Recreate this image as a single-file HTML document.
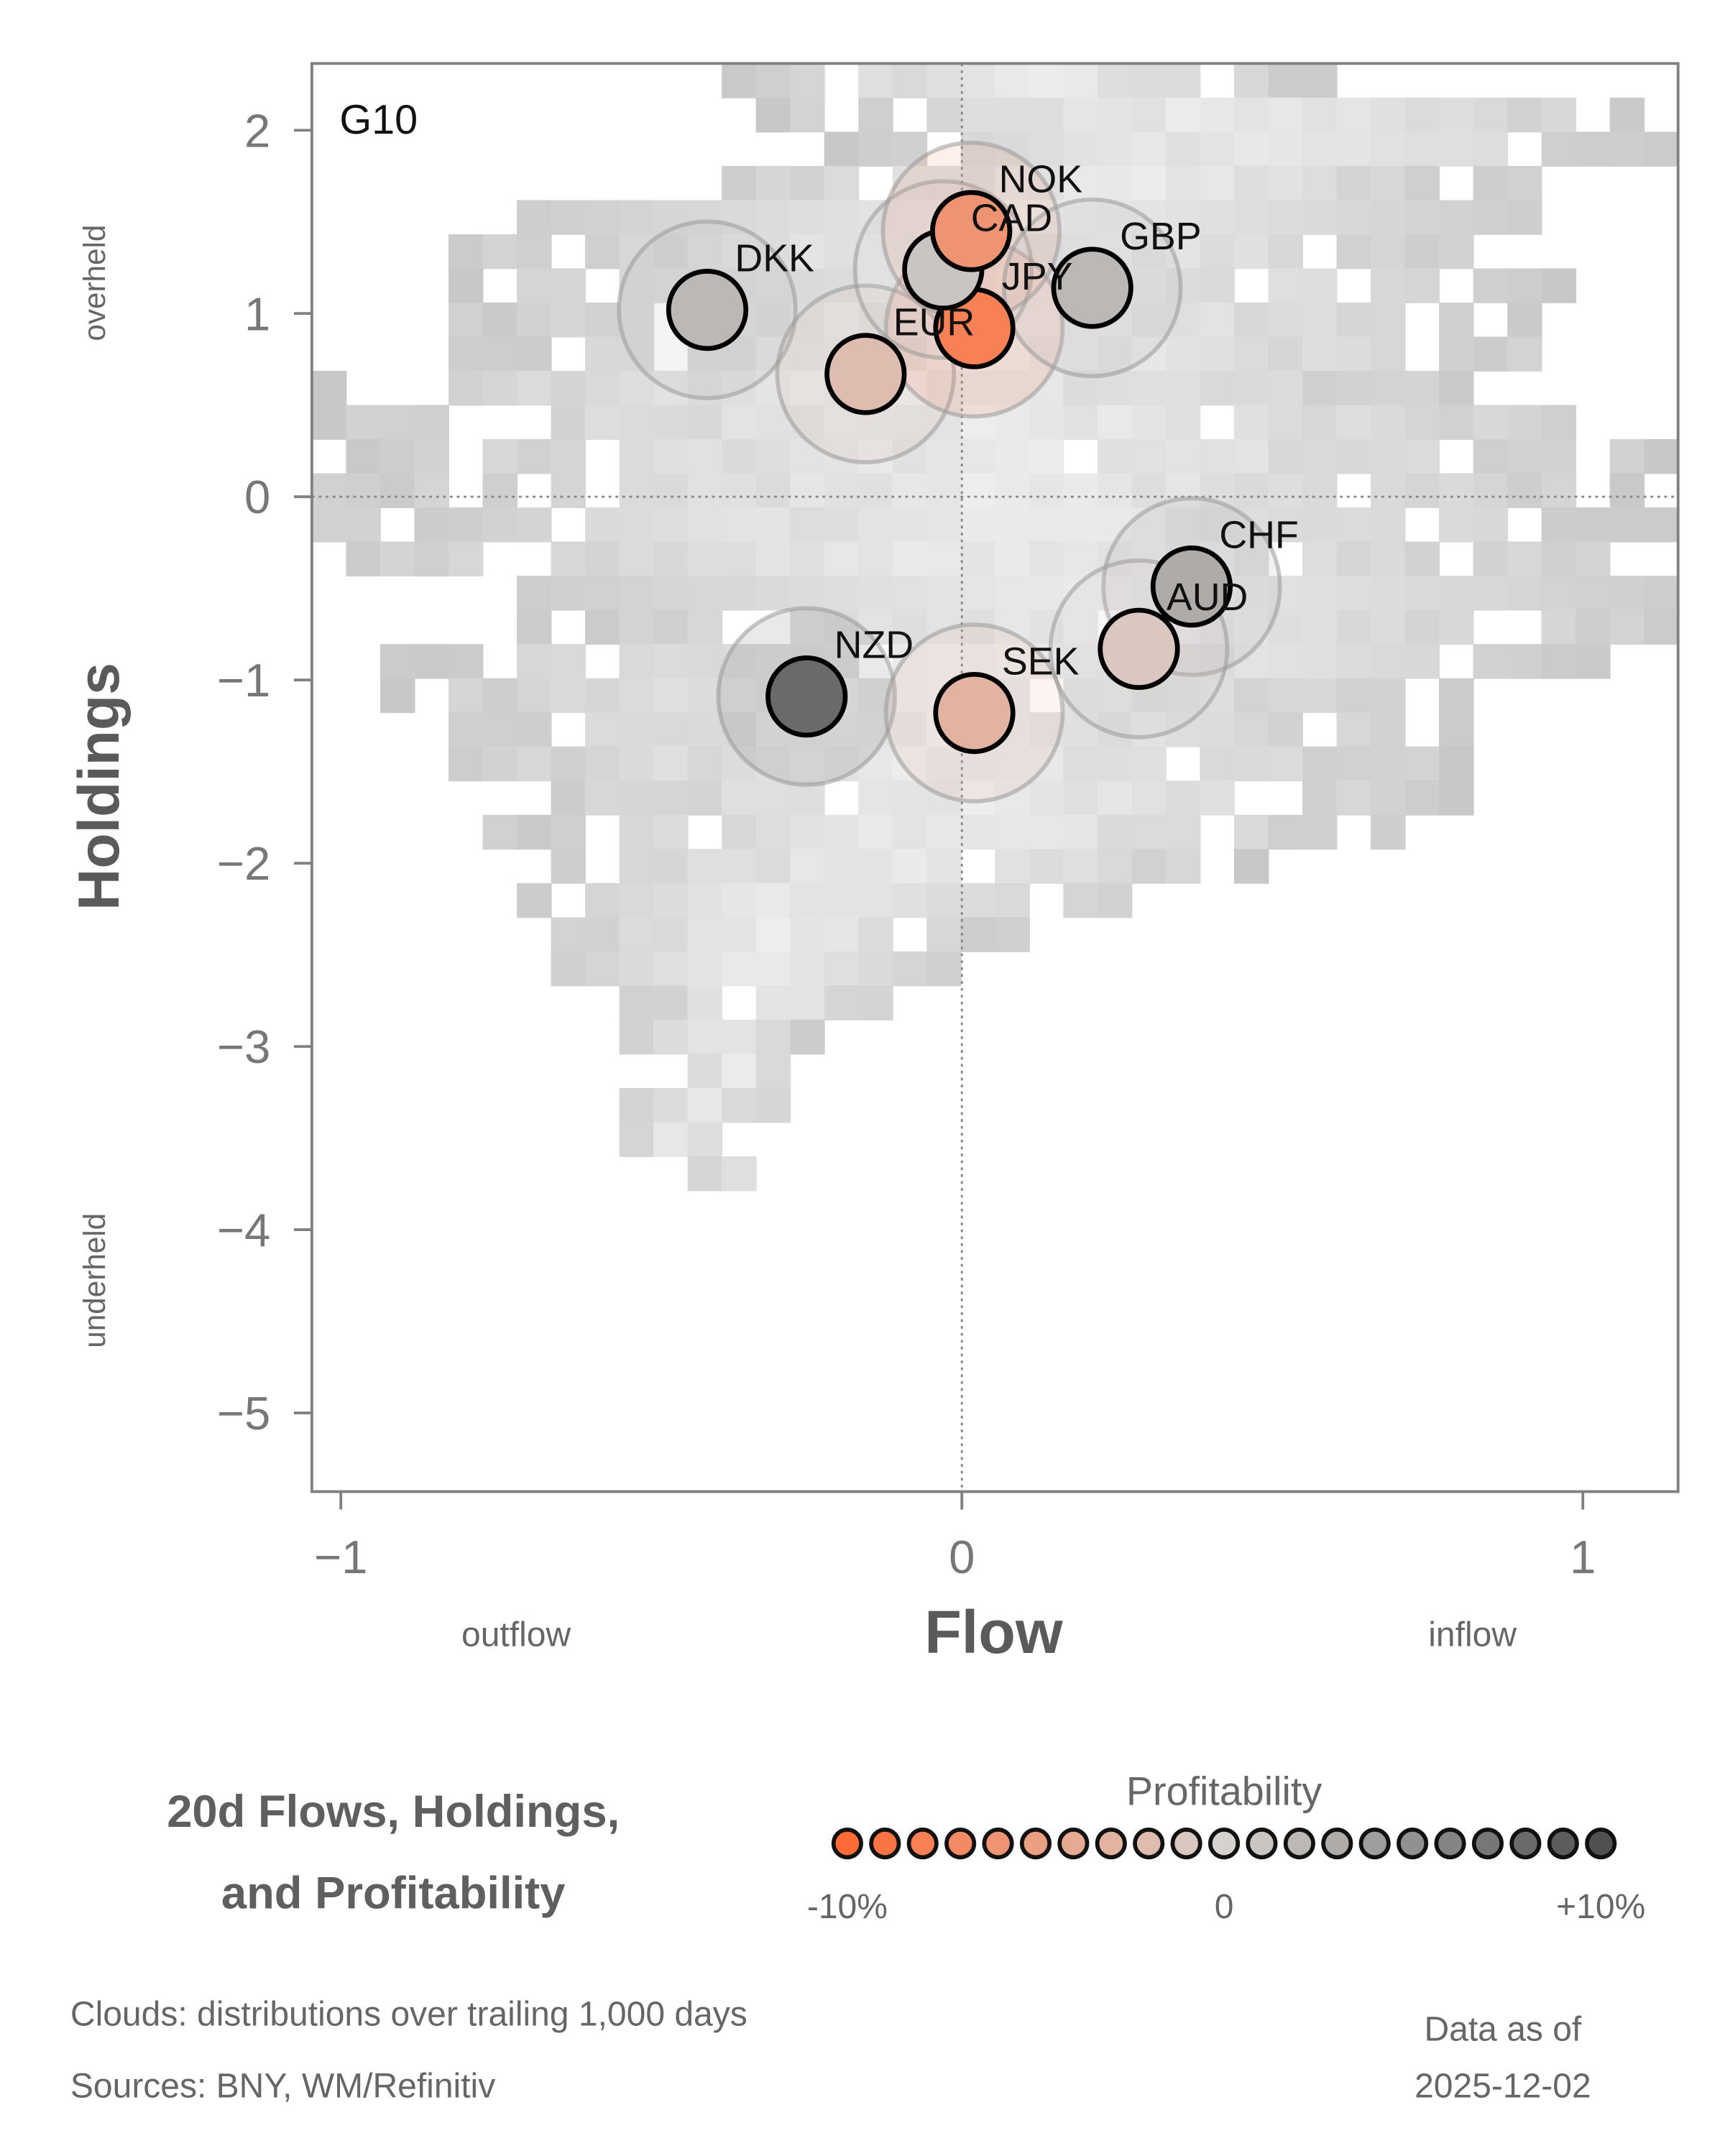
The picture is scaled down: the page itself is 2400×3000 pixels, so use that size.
<!DOCTYPE html>
<html><head><meta charset="utf-8"><style>
html,body{margin:0;padding:0;background:#fff;}
svg{display:block;font-family:"Liberation Sans",sans-serif;}
</style></head><body>
<svg id="chart" width="2400" height="3000" viewBox="0 0 1250 1562.5">
<g id="cloud"></g>
<g id="grid"></g>
<g id="halos"></g>
<g id="bubbles"></g>
<rect x="226" y="46" width="990" height="1035" fill="none" stroke="#808080" stroke-width="2"/>
<text x="246" y="97" font-size="30" fill="#111">G10</text>
<g id="axes"></g>
<text transform="translate(86,570) rotate(-90)" text-anchor="middle" font-size="42" font-weight="bold" fill="#5a5a5a">Holdings</text>
<text transform="translate(76,205) rotate(-90)" text-anchor="middle" font-size="22" fill="#666">overheld</text>
<text transform="translate(76,928) rotate(-90)" text-anchor="middle" font-size="22" fill="#666">underheld</text>
<text x="720" y="1198" text-anchor="middle" font-size="44" font-weight="bold" fill="#5a5a5a">Flow</text>
<text x="374" y="1193" text-anchor="middle" font-size="25" fill="#666">outflow</text>
<text x="1067" y="1193" text-anchor="middle" font-size="25" fill="#666">inflow</text>
<text x="285" y="1324" text-anchor="middle" font-size="33" font-weight="bold" fill="#5f5f5f">20d Flows, Holdings,</text>
<text x="285" y="1383" text-anchor="middle" font-size="33" font-weight="bold" fill="#5f5f5f">and Profitability</text>
<text x="887" y="1308" text-anchor="middle" font-size="29" fill="#666">Profitability</text>
<g id="legend"></g>
<text x="614" y="1390" text-anchor="middle" font-size="25" fill="#666">-10%</text>
<text x="887" y="1390" text-anchor="middle" font-size="25" fill="#666">0</text>
<text x="1160" y="1390" text-anchor="middle" font-size="25" fill="#666">+10%</text>
<text x="51" y="1468" font-size="25" fill="#666">Clouds:  distributions over trailing 1,000 days</text>
<text x="51" y="1520" font-size="25" fill="#666">Sources:  BNY, WM/Refinitiv</text>
<text x="1089" y="1479" text-anchor="middle" font-size="25" fill="#666">Data as of</text>
<text x="1089" y="1520" text-anchor="middle" font-size="25" fill="#666">2025-12-02</text>
</svg>
<script>
const currencies=["DKK","EUR","JPY","CAD","NOK","GBP","CHF","AUD","NZD","SEK"];
const flows=[-0.41,-0.155,0.02,-0.03,0.015,0.21,0.37,0.285,-0.25,0.02];
const holdings=[1.02,0.67,0.92,1.24,1.45,1.14,-0.49,-0.83,-1.09,-1.18];
const profits=[2,-2,-8,1,-6,2,3,-1,8,-3];
const xTicks=[-1,0,1];
const yTicks=[2,1,0,-1,-2,-3,-4,-5];
// cloud: per row (top to bottom, 24.75px cells) start and end column (0..40)
const cloudStart=[12,13,15,11,6,4,4,4,4,0,0,0,0,0,0,6,6,2,2,3,3,5,5,6,6,6,7,9,9,10,9,9,11];
const cloudEnd=[30,40,40,36,36,36,37,37,37,35,40,40,40,40,40,40,40,39,34,34,34,34,32,28,24,21,19,17,15,15,14,13,13];
const NS="http://www.w3.org/2000/svg";
const X0=697,XS=450,Y0=360,YS=132.8;
const sx=v=>X0+v*XS, sy=v=>Y0-v*YS;
function mk(p,t,a){const e=document.createElementNS(NS,t);for(const k in a)e.setAttribute(k,a[k]);p.appendChild(e);return e;}
function lerp(a,b,t){return a.map((v,i)=>Math.round(v+(b[i]-v)*t));}
function pcol(p){const o=[255,107,53],m=[214,210,207],d=[80,80,80];const t=Math.max(-1,Math.min(1,p/10));const c=t<0?lerp(m,o,-t):lerp(m,d,t);return `rgb(${c})`;}
const cl=document.getElementById('cloud');
const CW=24.75;
for(let r=0;r<cloudStart.length;r++){
  for(let c=cloudStart[r];c<cloudEnd[r];c++){
    const h=((r*37+c*91+r*c*13)%11);
    const mid=(cloudStart[r]+cloudEnd[r])/2,w=(cloudEnd[r]-cloudStart[r])/2;
    const dist=Math.abs(c+0.5-mid)/w;
    if(dist>0.55&&h<3)continue;
    if(h===0&&(r+c)%3===0)continue;
    const g=Math.round(238-dist*30-(h%4)*3);
    const e=mk(cl,'rect',{x:226+c*CW,y:46+r*CW,width:CW+0.5,height:CW+0.5,fill:`rgb(${g},${g},${g})`});
    
    
  }
}
const gr=document.getElementById('grid');
mk(gr,'line',{x1:sx(0),y1:46,x2:sx(0),y2:1081,stroke:'#888','stroke-width':1.5,'stroke-dasharray':'2,3'});
mk(gr,'line',{x1:226,y1:sy(0),x2:1216,y2:sy(0),stroke:'#888','stroke-width':1.5,'stroke-dasharray':'2,3'});
const ax=document.getElementById('axes');
xTicks.forEach(t=>{
  const l=mk(ax,'line',{x1:sx(t),y1:1081,x2:sx(t),y2:1094,stroke:'#808080','stroke-width':2});
  
  const tx=mk(ax,'text',{x:sx(t),y:1140,'text-anchor':'middle','font-size':34,fill:'#777'});
  tx.textContent=t<0?'\u2212'+Math.abs(t):t;
  
});
yTicks.forEach(t=>{
  const l=mk(ax,'line',{x1:213,y1:sy(t),x2:226,y2:sy(t),stroke:'#808080','stroke-width':2});
  
  const tx=mk(ax,'text',{x:196,y:sy(t)+12,'text-anchor':'end','font-size':34,fill:'#777'});
  tx.textContent=t<0?'\u2212'+Math.abs(t):t;
  
});
const ha=document.getElementById('halos'),bu=document.getElementById('bubbles');
currencies.forEach((c,i)=>{
  const x=sx(flows[i]),y=sy(holdings[i]),col=pcol(profits[i]);
  const h=mk(ha,'circle',{cx:x,cy:y,r:64,fill:col,'fill-opacity':0.15,stroke:'#999','stroke-opacity':0.55,'stroke-width':3});
  
});
currencies.forEach((c,i)=>{
  const x=sx(flows[i]),y=sy(holdings[i]),col=pcol(profits[i]);
  const b=mk(bu,'circle',{cx:x,cy:y,r:28,fill:col,stroke:'#000','stroke-width':3.5});
  
});
currencies.forEach((c,i)=>{
  const x=sx(flows[i]),y=sy(holdings[i]);
  const t=mk(bu,'text',{x:x+20,y:y-28,'font-size':28,fill:'#111'});t.textContent=c;
  
});
const lg=document.getElementById('legend');
for(let k=0;k<21;k++){
  const p=-10+k;
  const d=mk(lg,'circle',{cx:614+k*27.3,cy:1336,r:10,fill:pcol(p),stroke:'#111','stroke-width':3});
  
}
</script>
</body></html>
